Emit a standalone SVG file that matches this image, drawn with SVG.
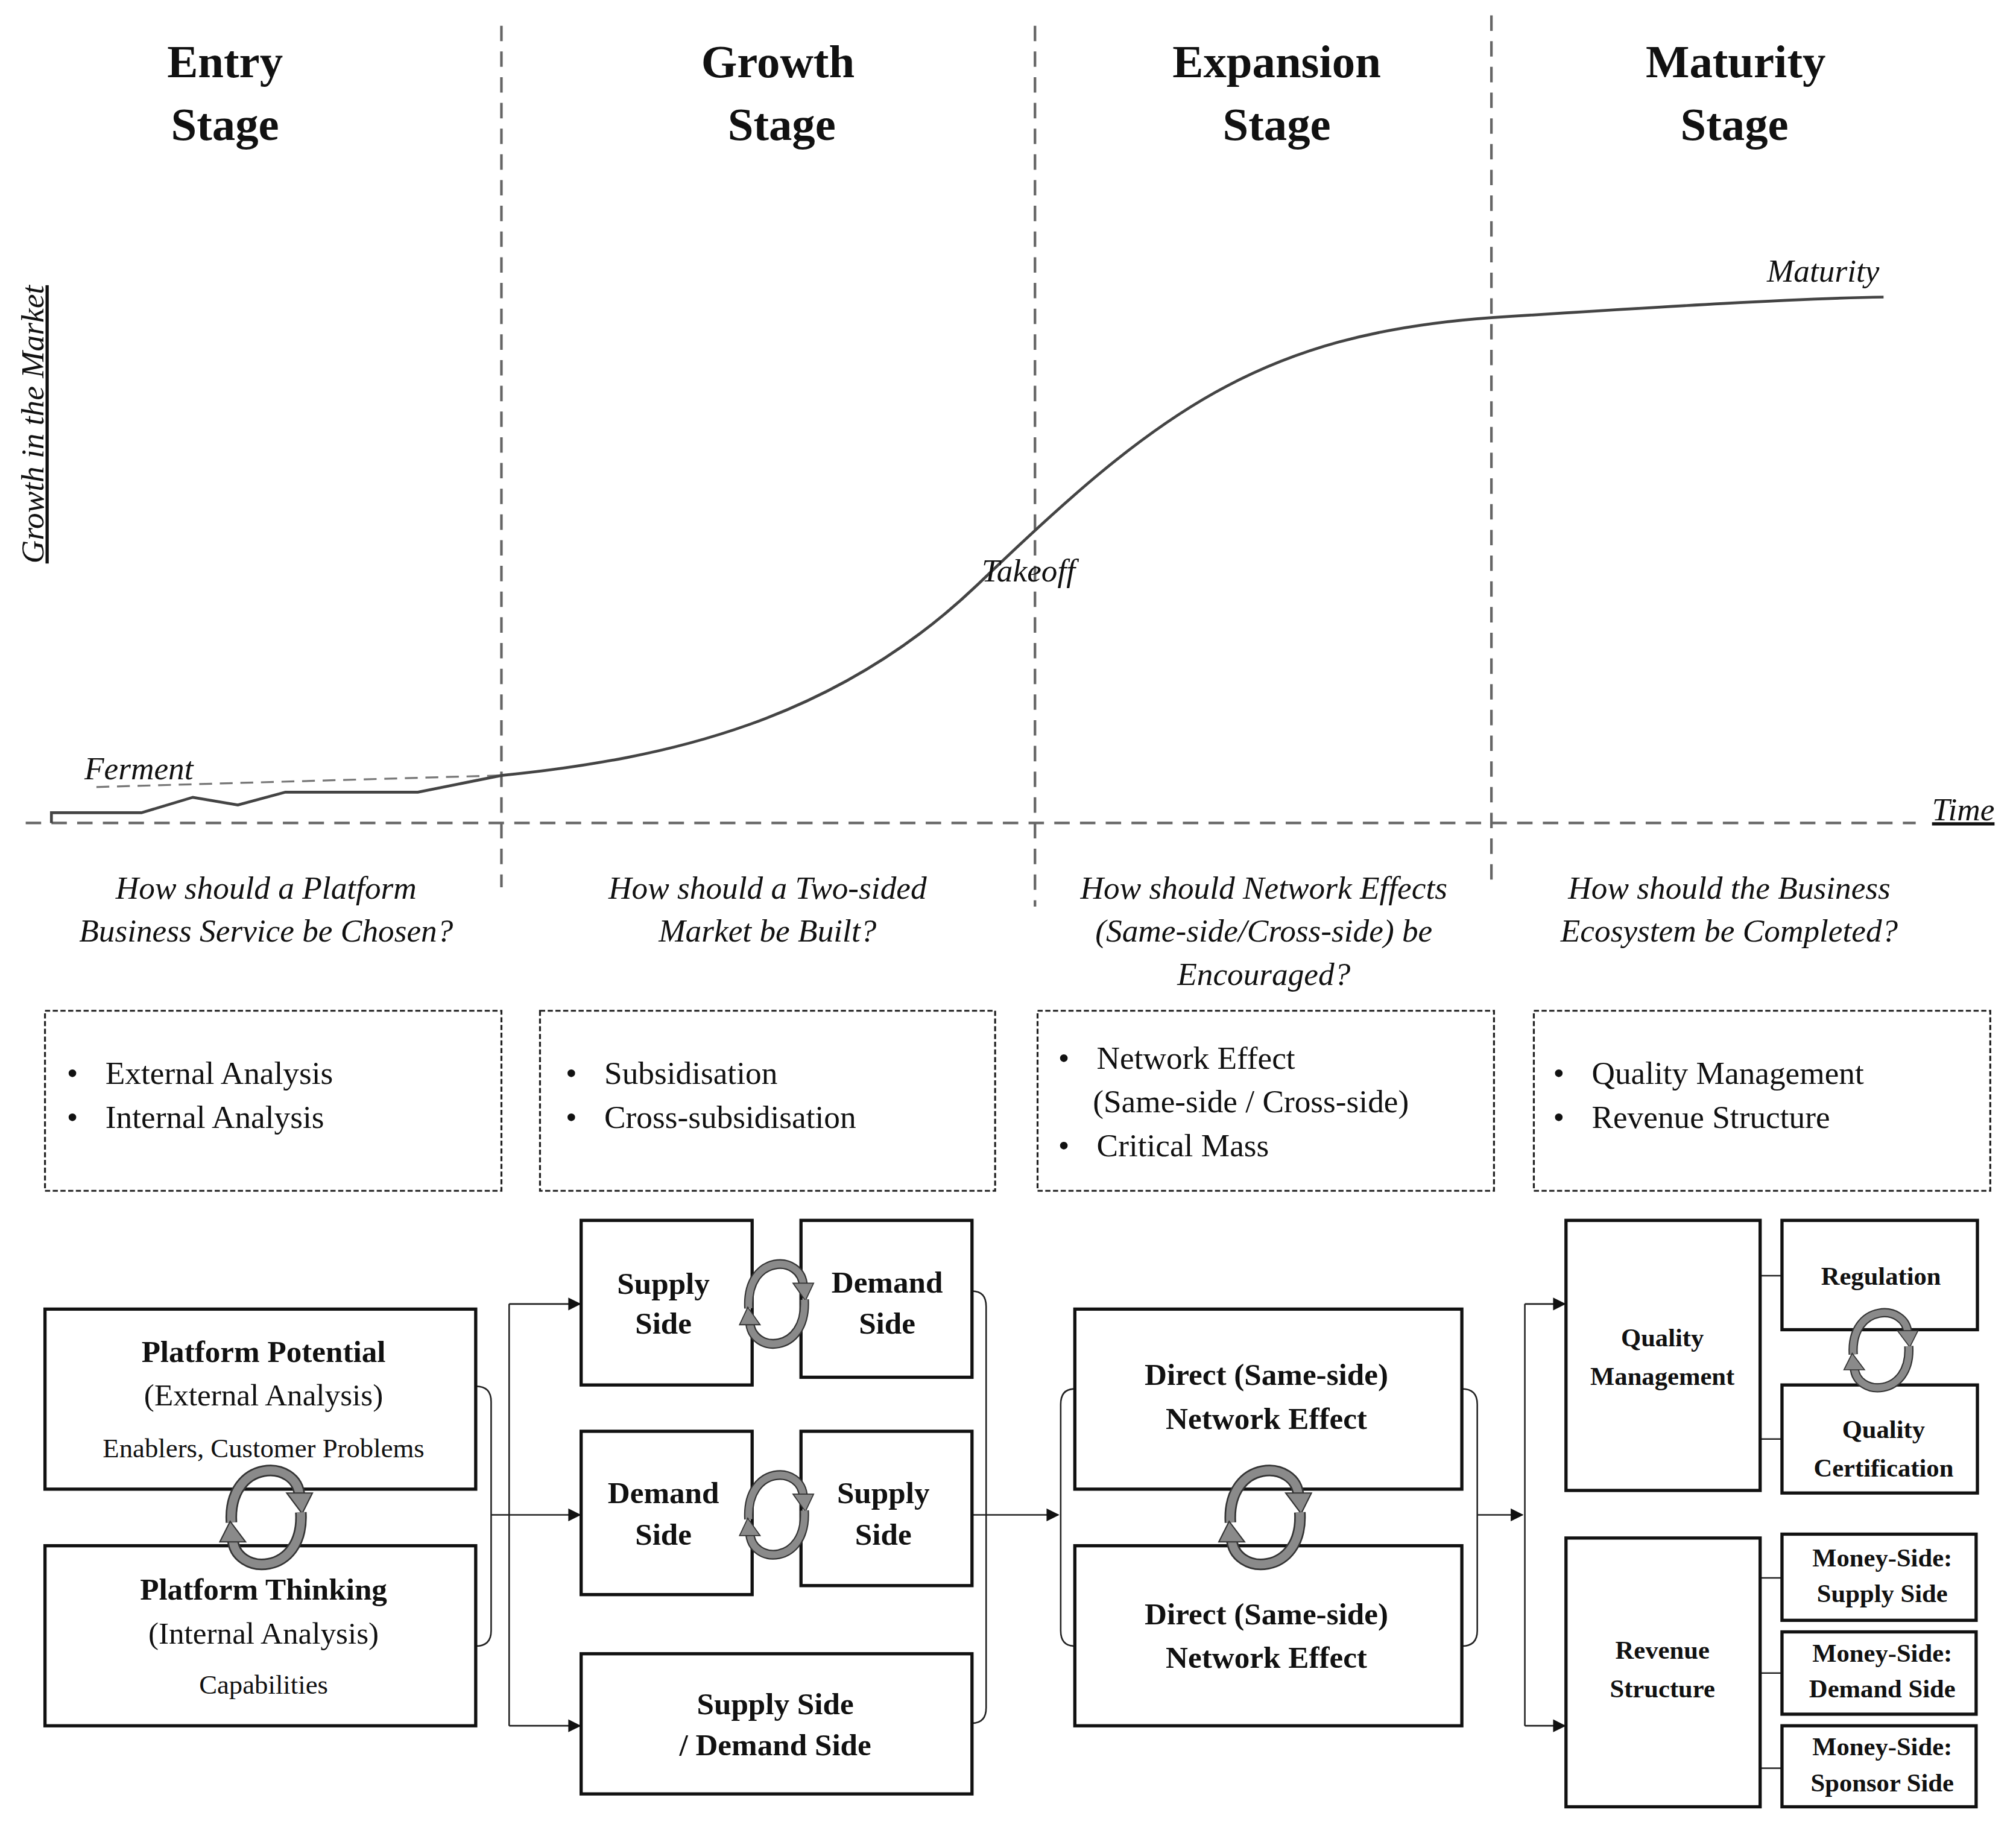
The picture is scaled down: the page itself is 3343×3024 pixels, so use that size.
<svg xmlns="http://www.w3.org/2000/svg" width="3343" height="3024" viewBox="0 0 3343 3024">
<style>
.t{font-family:"Liberation Serif",serif;fill:#111;text-anchor:middle}
.st{font-size:36px;font-weight:bold}
.q{font-size:25px;font-style:italic}
.b{font-size:25px;text-anchor:start}
.bb{font-size:24px;font-weight:bold}
.sm{font-size:21px}
.sb{font-size:20px;font-weight:bold}
.lb{font-size:25px;font-style:italic}
.box{fill:#fff;stroke:#111;stroke-width:2.5}
.dbox{fill:none;stroke:#222;stroke-width:1.5;stroke-dasharray:4 2}
.vd{stroke:#666;stroke-width:2;stroke-dasharray:12 8;fill:none}
.ln{stroke:#222;stroke-width:1.2;fill:none}
</style>
<defs>
<marker id="ah" markerWidth="10" markerHeight="10" refX="9" refY="5" orient="auto" markerUnits="userSpaceOnUse"><path d="M0,0 L10,5 L0,10 z" fill="#111"/></marker>
<g id="cyc">
<path d="M -27,4 C -30,-46 25,-46 26,-16" fill="none" stroke="#333" stroke-width="9"/>
<path d="M -27,4 C -30,-46 25,-46 26,-16" fill="none" stroke="#8a8a8a" stroke-width="6.5"/>
<polygon points="16,-19 36,-19 28,-3" fill="#8a8a8a" stroke="#333" stroke-width="1"/>
<path d="M 27,-4 C 30,46 -25,46 -26,16" fill="none" stroke="#333" stroke-width="9"/>
<path d="M 27,-4 C 30,46 -25,46 -26,16" fill="none" stroke="#8a8a8a" stroke-width="6.5"/>
<polygon points="-16,19 -36,19 -28,3" fill="#8a8a8a" stroke="#333" stroke-width="1"/>
</g>
</defs>
<rect width="3343" height="3024" fill="#fff"/>
<g transform="scale(2.132)">
<g id="stages">
<text class="t st" x="175" y="60">Entry</text><text class="t st" x="175" y="109">Stage</text>
<text class="t st" x="605" y="60">Growth</text><text class="t st" x="608" y="109">Stage</text>
<text class="t st" x="993" y="60">Expansion</text><text class="t st" x="993" y="109">Stage</text>
<text class="t st" x="1350" y="60">Maturity</text><text class="t st" x="1349" y="109">Stage</text>
</g>
<g id="chart">
<line class="vd" x1="390" y1="20" x2="390" y2="690"/>
<line class="vd" x1="805" y1="20" x2="805" y2="705"/>
<line class="vd" x1="1160" y1="12" x2="1160" y2="685"/>
<line class="vd" x1="20" y1="640" x2="1490" y2="640"/>
<line x1="75" y1="612" x2="390" y2="603" stroke="#777" stroke-width="1.5" stroke-dasharray="10 6"/>
<path d="M40,640 L40,632 L110,632 L150,620 L185,626 L222,616 L325,616 L390,603 C520,590 650,560 760,455 C900,320 980,260 1160,247 C1300,238 1400,232 1465,231" fill="none" stroke="#444" stroke-width="2.2"/>
<text class="t lb" x="108" y="606">Ferment</text>
<text class="t lb" x="800" y="452">Takeoff</text>
<text class="t lb" x="1418" y="219">Maturity</text>
<text class="t lb" x="1527" y="638" text-decoration="underline">Time</text>
<text class="t lb" transform="translate(34,330) rotate(-90)" text-decoration="underline">Growth in the Market</text>
</g>
<g id="questions">
<text class="t q" x="207" y="699">How should a Platform</text><text class="t q" x="207" y="732">Business Service be Chosen?</text>
<text class="t q" x="597" y="699">How should a Two-sided</text><text class="t q" x="597" y="732">Market be Built?</text>
<text class="t q" x="983" y="699">How should Network Effects</text><text class="t q" x="983" y="732">(Same-side/Cross-side) be</text><text class="t q" x="983" y="766">Encouraged?</text>
<text class="t q" x="1345" y="699">How should the Business</text><text class="t q" x="1345" y="732">Ecosystem be Completed?</text>
</g>
<g id="bullets">
<rect class="dbox" x="35" y="786" width="355" height="140"/>
<text class="t b" x="52" y="843">•</text><text class="t b" x="82" y="843">External Analysis</text>
<text class="t b" x="52" y="877">•</text><text class="t b" x="82" y="877">Internal Analysis</text>
<rect class="dbox" x="420" y="786" width="354" height="140"/>
<text class="t b" x="440" y="843">•</text><text class="t b" x="470" y="843">Subsidisation</text>
<text class="t b" x="440" y="877">•</text><text class="t b" x="470" y="877">Cross-subsidisation</text>
<rect class="dbox" x="807" y="786" width="355" height="140"/>
<text class="t b" x="823" y="831">•</text><text class="t b" x="853" y="831">Network Effect</text>
<text class="t b" x="850" y="865">(Same-side / Cross-side)</text>
<text class="t b" x="823" y="899">•</text><text class="t b" x="853" y="899">Critical Mass</text>
<rect class="dbox" x="1193" y="786" width="355" height="140"/>
<text class="t b" x="1208" y="843">•</text><text class="t b" x="1238" y="843">Quality Management</text>
<text class="t b" x="1208" y="877">•</text><text class="t b" x="1238" y="877">Revenue  Structure</text>
</g>
<g id="connectors">
<path class="ln" d="M370,1078 Q382,1078 382,1090 L382,1268 Q382,1280 370,1280"/>
<line class="ln" x1="382" y1="1178" x2="396" y2="1178"/>
<line class="ln" x1="396" y1="1014" x2="396" y2="1342"/>
<line class="ln" x1="396" y1="1014" x2="451" y2="1014" marker-end="url(#ah)"/>
<line class="ln" x1="396" y1="1178" x2="451" y2="1178" marker-end="url(#ah)"/>
<line class="ln" x1="396" y1="1342" x2="451" y2="1342" marker-end="url(#ah)"/>
<path class="ln" d="M756,1004 Q767,1004 767,1016 L767,1328 Q767,1340 756,1340"/>
<line class="ln" x1="756" y1="1178" x2="823" y2="1178" marker-end="url(#ah)"/>
<path class="ln" d="M836,1080 Q825,1080 825,1092 L825,1268 Q825,1280 836,1280"/>
<path class="ln" d="M1137,1080 Q1149,1080 1149,1092 L1149,1268 Q1149,1280 1137,1280"/>
<line class="ln" x1="1149" y1="1178" x2="1184" y2="1178" marker-end="url(#ah)"/>
<line class="ln" x1="1186" y1="1014" x2="1186" y2="1342"/>
<line class="ln" x1="1186" y1="1014" x2="1217" y2="1014" marker-end="url(#ah)"/>
<line class="ln" x1="1186" y1="1342" x2="1217" y2="1342" marker-end="url(#ah)"/>
<line class="ln" x1="1369" y1="992" x2="1386" y2="992"/>
<line class="ln" x1="1369" y1="1119" x2="1386" y2="1119"/>
<line class="ln" x1="1369" y1="1227" x2="1386" y2="1227"/>
<line class="ln" x1="1369" y1="1301" x2="1386" y2="1301"/>
<line class="ln" x1="1369" y1="1375" x2="1386" y2="1375"/>
</g>
<g id="pp"><rect class="box" x="35" y="1018" width="335" height="140"/>
<text class="t bb" x="205" y="1059">Platform Potential</text><text class="t" font-size="24" x="205" y="1093">(External Analysis)</text><text class="t sm" x="205" y="1133">Enablers, Customer Problems</text></g>
<g id="pt"><rect class="box" x="35" y="1202" width="335" height="140"/>
<text class="t bb" x="205" y="1244">Platform Thinking</text><text class="t" font-size="24" x="205" y="1278">(Internal Analysis)</text><text class="t sm" x="205" y="1317">Capabilities</text></g>
<g id="ss1"><rect class="box" x="452" y="949" width="133" height="128"/><text class="t bb" x="516" y="1006">Supply</text><text class="t bb" x="516" y="1037">Side</text></g>
<g id="ds1"><rect class="box" x="623" y="949" width="133" height="122"/><text class="t bb" x="690" y="1005">Demand</text><text class="t bb" x="690" y="1037">Side</text></g>
<g id="ds2"><rect class="box" x="452" y="1113" width="133" height="127"/><text class="t bb" x="516" y="1169">Demand</text><text class="t bb" x="516" y="1201">Side</text></g>
<g id="ss2"><rect class="box" x="623" y="1113" width="133" height="120"/><text class="t bb" x="687" y="1169">Supply</text><text class="t bb" x="687" y="1201">Side</text></g>
<g id="sds"><rect class="box" x="452" y="1286" width="304" height="109"/><text class="t bb" x="603" y="1333">Supply Side</text><text class="t bb" x="603" y="1365">/ Demand Side</text></g>
<g id="de1"><rect class="box" x="836" y="1018" width="301" height="140"/><text class="t bb" x="985" y="1077">Direct (Same-side)</text><text class="t bb" x="985" y="1111">Network Effect</text></g>
<g id="de2"><rect class="box" x="836" y="1202" width="301" height="140"/><text class="t bb" x="985" y="1263">Direct (Same-side)</text><text class="t bb" x="985" y="1297">Network Effect</text></g>
<g id="qm"><rect class="box" x="1218" y="949" width="151" height="210"/><text class="t sb" x="1293" y="1047">Quality</text><text class="t sb" x="1293" y="1077">Management</text></g>
<g id="reg"><rect class="box" x="1386" y="949" width="152" height="85"/><text class="t sb" x="1463" y="999">Regulation</text></g>
<g id="qc"><rect class="box" x="1386" y="1077" width="152" height="84"/><text class="t sb" x="1465" y="1118">Quality</text><text class="t sb" x="1465" y="1148">Certification</text></g>
<g id="rs"><rect class="box" x="1218" y="1196" width="151" height="209"/><text class="t sb" x="1293" y="1290">Revenue</text><text class="t sb" x="1293" y="1320">Structure</text></g>
<g id="m1"><rect class="box" x="1386" y="1193" width="151" height="67"/><text class="t sb" x="1464" y="1218">Money-Side:</text><text class="t sb" x="1464" y="1246">Supply Side</text></g>
<g id="m2"><rect class="box" x="1386" y="1269" width="151" height="64"/><text class="t sb" x="1464" y="1292">Money-Side:</text><text class="t sb" x="1464" y="1320">Demand Side</text></g>
<g id="m3"><rect class="box" x="1386" y="1342" width="151" height="63"/><text class="t sb" x="1464" y="1365">Money-Side:</text><text class="t sb" x="1464" y="1393">Sponsor Side</text></g>
<g id="cycles">
<use href="#cyc" transform="translate(207,1180)"/>
<use href="#cyc" transform="translate(604,1014) scale(0.8,0.85)"/>
<use href="#cyc" transform="translate(604,1178) scale(0.8,0.85)"/>
<use href="#cyc" transform="translate(984,1180)"/>
<use href="#cyc" transform="translate(1463,1050) scale(0.8)"/>
</g>
</g>
</svg>
